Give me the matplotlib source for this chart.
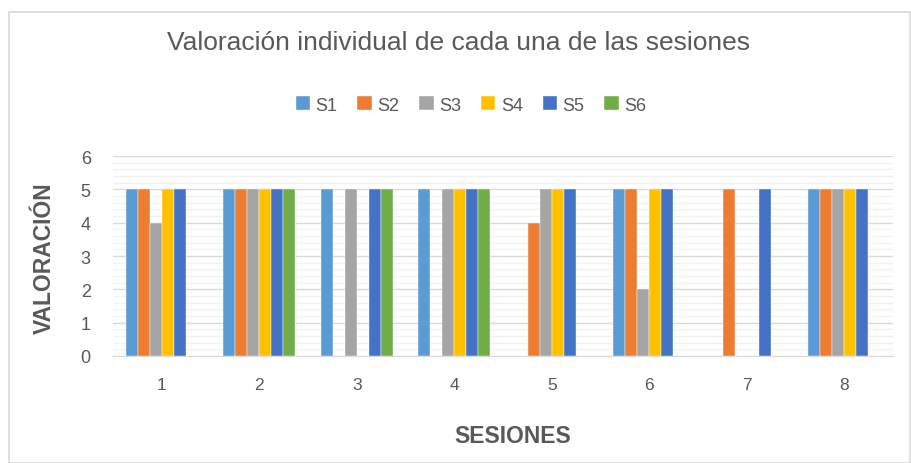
import matplotlib
matplotlib.use("Agg")
import matplotlib.pyplot as plt
import numpy as np
from matplotlib.patches import Rectangle

categories = ["1", "2", "3", "4", "5", "6", "7", "8"]
series_names = ["S1", "S2", "S3", "S4", "S5", "S6"]
S1 = [5, 5, 5, 5, 0, 5, 0, 5]
S2 = [5, 5, 0, 0, 4, 5, 5, 5]
S3 = [4, 5, 5, 5, 5, 2, 0, 5]
S4 = [5, 5, 0, 5, 5, 5, 0, 5]
S5 = [5, 5, 5, 5, 5, 5, 5, 5]
S6 = [0, 5, 5, 5, 0, 0, 0, 0]
series = [S1, S2, S3, S4, S5, S6]
colors = ["#5B9BD5", "#ED7D31", "#A5A5A5", "#FFC000", "#4472C4", "#70AD47"]

narrow = ["Liberation Sans Narrow", "Liberation Sans", "DejaVu Sans"]
sans = ["Liberation Sans", "DejaVu Sans"]

fig = plt.figure(figsize=(9.11, 4.64), dpi=100)
fig.patches.append(Rectangle((9/911, 0), 1 - 9/911 - 0.001, 1 - 13/464, transform=fig.transFigure,
                             fill=False, edgecolor="#D9D9D9", linewidth=1.2))
ax = fig.add_axes([113/911, 1 - 357/464, 780/911, 200/464])

x = np.arange(len(categories))
w = 0.123
for i, (vals, c, n) in enumerate(zip(series, colors, series_names)):
    ax.bar(x + (i - 2.5) * w, vals, w, color=c, label=n, zorder=3,
           edgecolor="white", linewidth=0.3)

ax.set_xlim(-0.5, len(categories) - 0.5)
ax.set_ylim(0, 6)
ax.set_yticks(range(0, 7))
ax.set_yticks(np.arange(0, 6.01, 0.2), minor=True)
ax.grid(axis="y", which="major", color="#D9D9D9", linewidth=1.0, zorder=0)
ax.grid(axis="y", which="minor", color="#F2F2F2", linewidth=1.0, zorder=0)
ax.tick_params(axis="y", which="both", length=0, labelsize=13, labelcolor="#595959", pad=16)
ax.tick_params(axis="x", length=0, labelsize=12.5, labelcolor="#595959", pad=15)
ax.set_xticks(x)
ax.set_xticklabels(categories, family=narrow)
for lbl in ax.get_yticklabels():
    lbl.set_family(sans)
for s in ["top", "right", "left"]:
    ax.spines[s].set_visible(False)
ax.spines["bottom"].set_color("#D9D9D9")

fig.text(0.503, 1 - 43/464, "Valoración individual de cada una de las sesiones", ha="center", va="center",
         fontsize=19, color="#595959", family=sans)
fig.text(513/911, 1 - 437/464, "SESIONES", ha="center", va="center", fontsize=16.5,
         fontweight="bold", color="#595959", family=sans)
fig.text(44/911, 1 - 258/464, "VALORACIÓN", ha="center", va="center", rotation=90,
         fontsize=16.5, fontweight="bold", color="#595959", family=sans)

leg = fig.legend(loc="center", bbox_to_anchor=(471/911, 1 - 106/464), ncol=6, frameon=False,
                 handlelength=0.8, handleheight=0.8, handletextpad=0.3, columnspacing=1.1,
                 prop={"family": narrow, "size": 13})
for t in leg.get_texts():
    t.set_color("#595959")

fig.savefig("out.png", dpi=100)
